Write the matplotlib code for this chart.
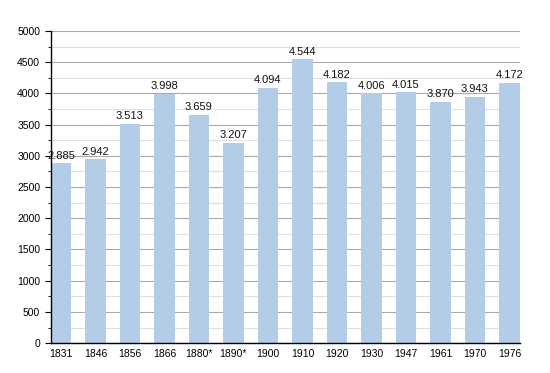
import matplotlib.pyplot as plt
from matplotlib.ticker import MultipleLocator

years = ['1831', '1846', '1856', '1866', '1880*', '1890*', '1900', '1910',
         '1920', '1930', '1947', '1961', '1970', '1976']
population = [2885, 2942, 3513, 3998, 3659, 3207, 4094, 4544,
              4182, 4006, 4015, 3870, 3943, 4172]

plt.rcParams['font.family'] = ['Liberation Sans', 'DejaVu Sans']

fig = plt.figure(figsize=(5.5, 3.73), dpi=100)
ax = fig.add_axes([0.092, 0.080, 0.853, 0.837])

x = range(len(years))
ax.bar(x, population, width=0.6, color='#b3cde8', zorder=2)

for i, v in enumerate(population):
    label = f'{v:,}'.replace(',', '.')
    ax.text(i, v + 40, label, ha='center', va='bottom', fontsize=8, color='#111111')

ax.set_xlim(-0.3, len(years) - 0.7)
ax.set_ylim(0, 5000)
ax.set_xticks(list(x))
ax.set_xticklabels(years, fontsize=7.5)
ax.yaxis.set_major_locator(MultipleLocator(500))
ax.yaxis.set_minor_locator(MultipleLocator(250))
ax.tick_params(axis='y', which='major', labelsize=7.5, length=4, color='black')
ax.tick_params(axis='y', which='minor', length=2, color='black')
ax.tick_params(axis='x', length=0, pad=4)

ax.grid(axis='y', which='major', color='#aaaaaa', linewidth=0.8, zorder=0)
ax.grid(axis='y', which='minor', color='#e0e0e0', linewidth=0.8, zorder=0)
ax.set_axisbelow(True)

for side in ['top', 'right']:
    ax.spines[side].set_visible(False)
ax.spines['left'].set_linewidth(1.0)
ax.spines['bottom'].set_linewidth(1.0)

plt.savefig('out.png', dpi=100)
